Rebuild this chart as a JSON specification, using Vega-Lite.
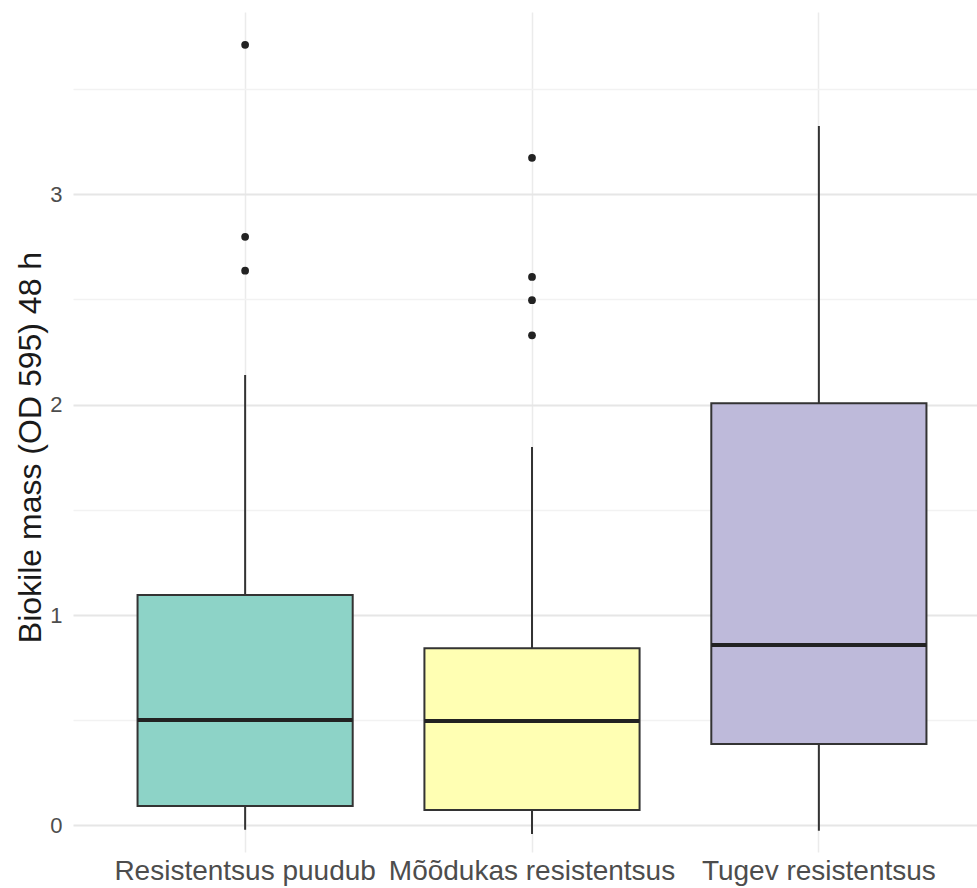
{
  "$schema": "https://vega.github.io/schema/vega-lite/v6.json",
  "autosize": {"type": "none"},
  "width": 904,
  "height": 840,
  "padding": {"left": 73, "top": 12, "right": 0, "bottom": 36},
  "background": "white",
  "config": {
    "view": {"stroke": null},
    "font": "Liberation Sans"
  },
  "datasets": {
    "boxes": [
      {"group": "Resistentsus puudub", "lower": -0.02, "q1": 0.093, "median": 0.501, "q3": 1.095, "upper": 2.14},
      {"group": "Mõõdukas resistentsus", "lower": -0.04, "q1": 0.074, "median": 0.496, "q3": 0.842, "upper": 1.798},
      {"group": "Tugev resistentsus", "lower": -0.025, "q1": 0.387, "median": 0.857, "q3": 2.006, "upper": 3.323}
    ],
    "outliers": [
      {"group": "Resistentsus puudub", "value": 3.709},
      {"group": "Resistentsus puudub", "value": 2.797},
      {"group": "Resistentsus puudub", "value": 2.636},
      {"group": "Mõõdukas resistentsus", "value": 3.172},
      {"group": "Mõõdukas resistentsus", "value": 2.606},
      {"group": "Mõõdukas resistentsus", "value": 2.496},
      {"group": "Mõõdukas resistentsus", "value": 2.329}
    ]
  },
  "layer": [
    {
      "data": {"name": "boxes"},
      "mark": {"type": "rule", "stroke": "#333333", "strokeWidth": 2},
      "encoding": {
        "x": {
          "field": "group", "type": "nominal",
          "sort": ["Resistentsus puudub", "Mõõdukas resistentsus", "Tugev resistentsus"],
          "scale": {"type": "band", "paddingInner": 0.25, "paddingOuter": 0.225, "range": [0, 918]},
          "axis": {
            "title": null, "domain": false, "ticks": false, "grid": true,
            "gridColor": "#ebebeb", "gridWidth": 1.5, "labelLimit": 0, "labelOverlap": false,
            "labelFontSize": 28, "labelColor": "#4d4d4d", "labelPadding": 5, "labelAngle": 0
          }
        },
        "y": {
          "field": "lower", "type": "quantitative",
          "scale": {"domain": [-0.126, 3.865], "nice": false, "zero": false},
          "axis": {
            "title": "Biokile mass (OD 595) 48 h",
            "titleFontSize": 32, "titleFontWeight": "normal", "titleColor": "#1a1a1a", "titlePadding": 2,
            "titleY": 435,
            "values": [0, 0.5, 1, 1.5, 2, 2.5, 3, 3.5],
            "labelExpr": "datum.value % 1 === 0 ? format(datum.value, 'd') : ''",
            "domain": false, "ticks": false, "grid": true,
            "gridColor": {"condition": {"test": "datum.value % 1 === 0", "value": "#e6e6e6"}, "value": "#f2f2f2"},
            "gridWidth": {"condition": {"test": "datum.value % 1 === 0", "value": 2}, "value": 1.5},
            "labelFontSize": 22, "labelColor": "#4d4d4d", "labelPadding": 11
          }
        },
        "y2": {"field": "upper"}
      }
    },
    {
      "data": {"name": "boxes"},
      "mark": {"type": "bar", "stroke": "#333333", "strokeWidth": 2},
      "encoding": {
        "x": {"field": "group", "type": "nominal", "sort": ["Resistentsus puudub", "Mõõdukas resistentsus", "Tugev resistentsus"]},
        "y": {"field": "q1", "type": "quantitative"},
        "y2": {"field": "q3"},
        "fill": {
          "field": "group", "type": "nominal",
          "scale": {"domain": ["Resistentsus puudub", "Mõõdukas resistentsus", "Tugev resistentsus"], "range": ["#8dd3c7", "#ffffb3", "#bebada"]},
          "legend": null
        }
      }
    },
    {
      "data": {"name": "boxes"},
      "mark": {"type": "tick", "color": "#222222", "thickness": 4, "size": 215, "opacity": 1},
      "encoding": {
        "x": {"field": "group", "type": "nominal", "sort": ["Resistentsus puudub", "Mõõdukas resistentsus", "Tugev resistentsus"]},
        "y": {"field": "median", "type": "quantitative"}
      }
    },
    {
      "data": {"name": "outliers"},
      "mark": {"type": "circle", "color": "#222222", "size": 60, "opacity": 1},
      "encoding": {
        "x": {"field": "group", "type": "nominal", "sort": ["Resistentsus puudub", "Mõõdukas resistentsus", "Tugev resistentsus"]},
        "y": {"field": "value", "type": "quantitative"}
      }
    }
  ]
}
